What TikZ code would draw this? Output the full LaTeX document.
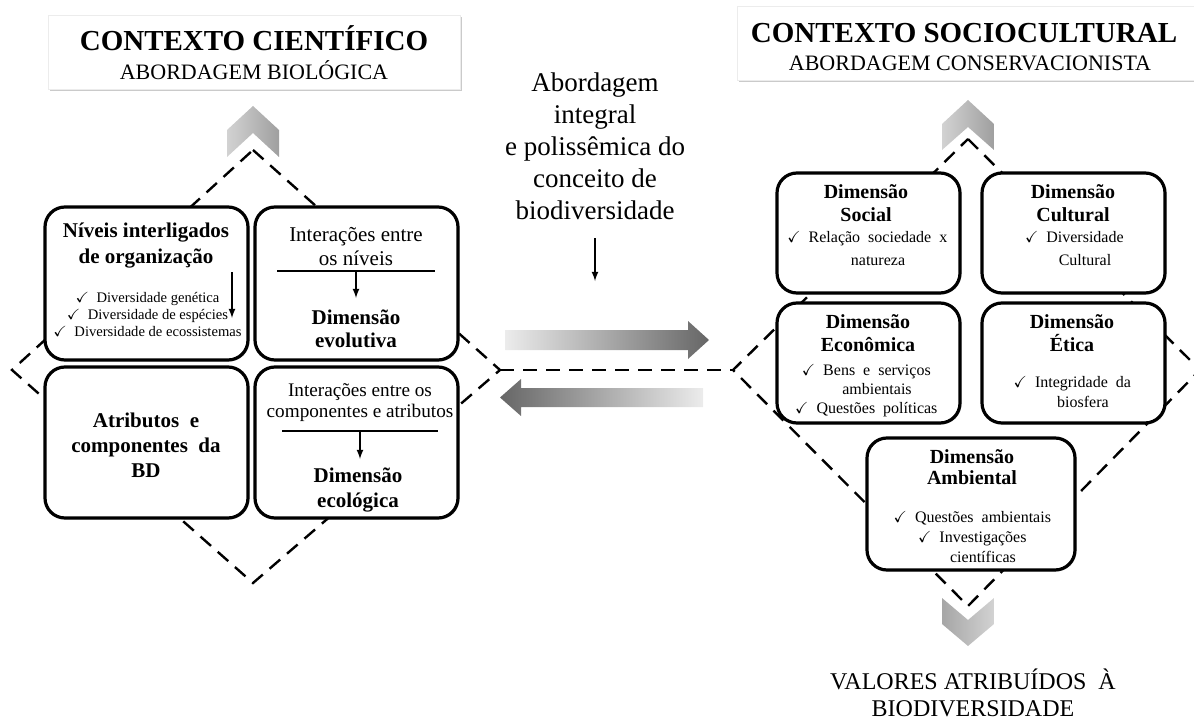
\documentclass[tikz,border=0pt]{standalone}
\usepackage{amssymb}
\usepackage{fontspec}
\setmainfont{Liberation Serif}
\usetikzlibrary{arrows,shadows,calc}
\newcommand{\chk}{\llap{$\checkmark$\ \ }}

\begin{document}
\begin{tikzpicture}[x=0.5pt,y=-0.5pt,>=latex]
\tikzstyle{headbox} = [draw=gray!15, fill=white, minimum height=37pt, drop shadow={shadow xshift=1pt, shadow yshift=-1pt, fill=gray!70, opacity=0.6}]
\tikzstyle{cell} = [draw, line width=1.6pt, rounded corners=10pt, fill=white, drop shadow={shadow xshift=0.7pt, shadow yshift=-0.7pt, opacity=0.45}]
\tikzstyle{frame} = [line width=1.2pt, dash pattern=on 7pt off 4.5pt]
\tikzstyle{title} = [font=\fontsize{14.5}{17}\selectfont\bfseries]
\tikzstyle{subtitle} = [font=\fontsize{11}{13}\selectfont]
\tikzstyle{boxhead} = [font=\fontsize{10.5}{12.5}\selectfont\bfseries, align=center]
\tikzstyle{boxtext} = [font=\fontsize{10.5}{12}\selectfont, align=center]
\tikzstyle{small} = [font=\fontsize{7.3}{8.5}\selectfont, align=center]
\tikzstyle{dimhead} = [font=\fontsize{10}{11.5}\selectfont\bfseries, align=center]
\tikzstyle{item} = [font=\fontsize{8}{10}\selectfont, align=center]
\tikzstyle{thin} = [line width=0.6pt]
\useasboundingbox (0,0) rectangle (1194,722);

\node[headbox, minimum width=206pt] (headL) at (254,52) {};
\node[title] (titL) at (254,38) {CONTEXTO CIENTÍFICO};
\node[subtitle] (subL) at (254,70) {ABORDAGEM BIOLÓGICA};
\node[headbox, minimum width=240pt] (headR) at (977,43) {};
\node[title] (titR) at (964,33) {CONTEXTO SOCIOCULTURAL};
\node[subtitle] (subR) at (970,63) {ABORDAGEM CONSERVACIONISTA};

\coordinate (Ltop) at (253,150);
\coordinate (Lright) at (500,370);
\coordinate (Lbot) at (253,583);
\coordinate (Lleft) at (12,370);
\coordinate (Rtop) at (968,139);
\coordinate (Rright) at (1200,370);
\coordinate (Rbot) at (968,606);
\coordinate (Rleft) at (733,370);
\draw[frame] (Ltop) -- (Lright) -- (Lbot) -- (Lleft) -- cycle;
\draw[frame] (Rtop) -- (Rright) -- (Rbot) -- (Rleft) -- cycle;
\draw[frame] (Lright) -- (Rleft);

\shade[left color=gray!35, right color=gray!75] (253,106) -- (279,130) -- (279,157) -- (253,133) -- (227,157) -- (227,130) -- cycle;
\shade[left color=gray!35, right color=gray!75] (968,100) -- (994,124) -- (994,150) -- (968,127) -- (942,150) -- (942,124) -- cycle;
\shade[left color=gray!70, right color=gray!35] (942,598) -- (968,620) -- (994,598) -- (994,624) -- (968,646) -- (942,624) -- cycle;

\shade[left color=gray!15, right color=gray!80!black] (505,330) -- (688,330) -- (688,321) -- (709,340) -- (688,359) -- (688,350) -- (505,350) -- cycle;
\shade[left color=gray!80!black, right color=gray!15] (703,388) -- (521,388) -- (521,379) -- (500,397.5) -- (521,416) -- (521,407) -- (703,407) -- cycle;

\node[cell, minimum width=101.5pt, minimum height=76.5pt] (niveis) at (146.5,283.5) {};
\node[cell, minimum width=101.5pt, minimum height=76.5pt] (evolut) at (356.5,283.5) {};
\node[cell, minimum width=101.5pt, minimum height=75.5pt] (atrib) at (146.5,442.5) {};
\node[cell, minimum width=101.5pt, minimum height=75.5pt] (ecolog) at (356.5,442.5) {};

\node[boxhead, font=\fontsize{10.5}{13}\selectfont\bfseries] (nivTxt) at (146,246) {Níveis interligados\\de organização};
\node[small] (nivItems) at (158,314) {\chk Diversidade genética\\\chk Diversidade de espécies\\\chk Diversidade de ecossistemas};
\coordinate (nivA) at (232,272);
\coordinate (nivB) at (232,318);
\draw[thin,->] (nivA) -- (nivB);

\node[boxtext] (evoTxt) at (356,247) {Interações entre\\os níveis};
\coordinate (evoL) at (277,271);
\coordinate (evoR) at (435,271);
\coordinate (evoTip) at (356,298);
\draw[thin] (evoL) -- (evoR);
\draw[thin,->] ($(evoL)!0.5!(evoR)$) -- (evoTip);
\node[boxhead, font=\fontsize{10.5}{11.5}\selectfont\bfseries] (evoDim) at (356,328.5) {Dimensão\\evolutiva};

\node[boxhead] (atrTxt) at (146,445) {Atributos \ e\\componentes \ da\\BD};

\node[boxtext, font=\fontsize{9.6}{10.5}\selectfont] (ecoTxt) at (360,402.5) {Interações entre os\\componentes e atributos};
\coordinate (ecoL) at (282,431);
\coordinate (ecoR) at (438,431);
\coordinate (ecoTip) at (360,459);
\draw[thin] (ecoL) -- (ecoR);
\draw[thin,->] ($(ecoL)!0.5!(ecoR)$) -- (ecoTip);
\node[boxhead, font=\fontsize{10.5}{12.5}\selectfont\bfseries] (ecoDim) at (358,489.5) {Dimensão\\ecológica};

\node[font=\fontsize{13.5}{16}\selectfont, align=center] (integral) at (595,146) {Abordagem\\integral\\e polissêmica do\\conceito de\\biodiversidade};
\coordinate (intA) at (595,238);
\coordinate (intB) at (595,281);
\draw[thin,->] (intA) -- (intB);

\node[cell, minimum width=91.5pt, minimum height=60pt] (social) at (868.5,233) {};
\node[cell, minimum width=91.5pt, minimum height=60pt] (cultural) at (1073.5,233) {};
\node[cell, minimum width=91.5pt, minimum height=60pt] (econ) at (868.5,363) {};
\node[cell, minimum width=91.5pt, minimum height=60pt] (etica) at (1073.5,363) {};
\node[cell, minimum width=104pt, minimum height=66pt] (amb) at (971,504) {};

\node[dimhead] (socHead) at (866,203.5) {Dimensão\\Social};
\node[item, font=\fontsize{8}{11.5}\selectfont] (socItems) at (878,249) {\chk Relação \ sociedade \ x\\natureza};
\node[dimhead] (culHead) at (1073,203.5) {Dimensão\\Cultural};
\node[item, font=\fontsize{8}{11.5}\selectfont] (culItems) at (1085,249) {\chk Diversidade\\Cultural};
\node[dimhead] (ecnHead) at (868,333.5) {Dimensão\\Econômica};
\node[item, font=\fontsize{8}{9.5}\selectfont] (ecnItems) at (877,391) {\chk Bens \ e \ serviços\\ambientais\\\chk Questões \ políticas};
\node[dimhead] (etiHead) at (1072,333.5) {Dimensão\\Ética};
\node[item] (etiItems) at (1083,392) {\chk Integridade \ da\\biosfera};
\node[dimhead, font=\fontsize{10}{10.5}\selectfont\bfseries] (ambHead) at (972,467.5) {Dimensão\\Ambiental};
\node[item] (ambItems) at (983,537) {\chk Questões \ ambientais\\\chk Investigações\\científicas};

\node[font=\fontsize{12}{13.5}\selectfont, align=center] (valores) at (973,693) {VALORES ATRIBUÍDOS \ À\\BIODIVERSIDADE};
\end{tikzpicture}
\end{document}
